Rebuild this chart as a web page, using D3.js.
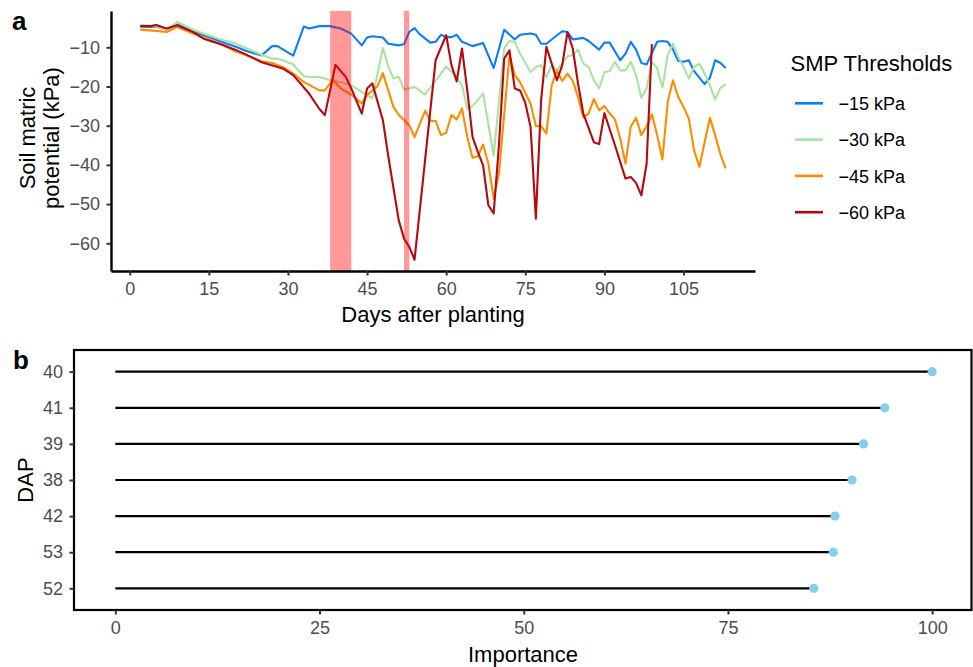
<!DOCTYPE html>
<html><head><meta charset="utf-8">
<script src="https://cdn.jsdelivr.net/npm/d3@7"></script>
<style>body{margin:0;background:#fff} text{font-family:"Liberation Sans",Arial,sans-serif}</style>
</head><body><svg id="c" width="973" height="667"></svg>
<script>
// ---- data: [days after planting, soil matric potential kPa] ----
const smp15 = [[2,-4.7],[4,-4.8],[5,-4.7],[7,-5.5],[9,-4.1],[12,-6],[15,-7.4],[18,-8.9],[20,-9.8],[22,-10.9],[25,-12.1],[27,-9.7],[28,-9.7],[31,-12.1],[33,-4.7],[34,-5.2],[36,-4.6],[38,-4.6],[40,-5.2],[42,-6.5],[44,-9.5],[45,-7.5],[46,-7.2],[48,-7.5],[49,-9.1],[51,-9.5],[52,-9.2],[53,-6.1],[54,-5.1],[55,-6.7],[57,-8.8],[58,-8.6],[59,-6.8],[60,-7.4],[61,-7.4],[62,-6.8],[63,-8.6],[65,-9.7],[67,-8.9],[69,-15.3],[71,-5.5],[73,-8],[74,-6.8],[76,-6.5],[77,-6.8],[78,-9.1],[79,-9.1],[80,-8],[82,-5.9],[83,-6.1],[84,-8],[86,-7.6],[87,-8.4],[89,-10.6],[90,-8.8],[91,-8.8],[93,-13.3],[94,-11.6],[95,-8.6],[96,-10.6],[97,-14],[98,-14.4],[100,-8.6],[101,-8.4],[102,-8.6],[103,-10.6],[104,-13.5],[105,-13.7],[106,-13.3],[107,-16.1],[109,-19.4],[110,-17.8],[111,-13.3],[112,-14],[113,-15.3]];
const smp30 = [[2,-4.3],[5,-4.6],[7,-5.6],[9,-3.5],[12,-5.5],[15,-7],[18,-8.3],[20,-9],[22,-10.2],[25,-11.9],[27,-12.9],[28,-12.9],[29,-13.3],[31,-14.4],[33,-17.4],[34,-17.5],[36,-17.6],[38,-18.4],[40,-18.9],[42,-19.7],[44,-21.4],[46,-23],[48,-10.2],[49,-14.8],[50,-17.9],[51,-17.5],[52,-20.8],[54,-20.1],[56,-22],[58,-18.5],[60,-14.9],[62,-17.6],[63,-19.7],[64,-25.6],[65,-25],[67,-21.8],[69,-37.6],[71,-10.3],[72,-8.4],[73,-8.6],[74,-11.6],[76,-16.3],[77,-15],[78,-14.6],[79,-17.6],[80,-14.6],[81,-15.9],[83,-12.3],[84,-12],[85,-10.6],[86,-14.2],[87,-15],[88,-18.4],[89,-20.5],[90,-16.3],[91,-16.1],[92,-13.7],[93,-15.9],[94,-15.9],[95,-13.7],[96,-17.1],[97,-22.9],[98,-20.5],[99,-13.7],[100,-15.4],[101,-20.3],[102,-12],[103,-9.1],[104,-12.5],[105,-15],[106,-18],[107,-15],[108,-14.2],[109,-16.7],[110,-19.7],[111,-23.3],[112,-20.3],[113,-19.4]];
const smp45 = [[2,-5.5],[5,-5.8],[7,-6.1],[9,-4.8],[12,-6.5],[15,-8],[18,-9.6],[20,-11],[22,-12],[25,-13.6],[27,-14],[29,-15],[31,-16.7],[33,-18.9],[36,-21],[37,-21],[38.5,-18.3],[40,-20.5],[42,-22.1],[44,-24.3],[45,-22.2],[46,-21],[47,-19.9],[48,-16.6],[50,-25.2],[51,-27.2],[53,-29.9],[54,-32.9],[56,-26.2],[57,-28.8],[58,-28.8],[59,-32.4],[60,-31.8],[61,-27.3],[62,-28.4],[63,-25.6],[64,-32.9],[65,-38.2],[66,-37.8],[67,-34.8],[68,-39.7],[69,-48.6],[70,-42.2],[72,-12],[73,-17.1],[74,-18.9],[75,-21.6],[76,-24.4],[77,-30.1],[78,-30.1],[79,-32],[80,-19.7],[81,-16],[82,-18.6],[83,-16.7],[84,-18.6],[85,-22.7],[86,-27.9],[87,-26.9],[88,-23.2],[89,-26.1],[90,-25],[91,-26.9],[92,-28.4],[93,-33.3],[94,-39.7],[95,-30.2],[96,-28],[97,-32.4],[98,-30.2],[99,-27.1],[100,-32.4],[101,-38.6],[102,-23.9],[103,-18.4],[104,-22.7],[105,-25.2],[106,-28.2],[107,-36.3],[108,-40.5],[109,-34.2],[110,-28],[111,-32.4],[112,-37.3],[113,-40.9]];
const smp60 = [[2,-4.6],[4,-4.6],[5,-4.3],[7,-5.2],[9,-4.4],[12,-6.1],[14,-7.8],[17,-9.1],[20,-10.6],[22,-11.8],[25,-13.8],[29,-15.4],[31,-17.1],[34,-21.8],[36,-25.8],[37,-27.3],[39,-14.5],[41,-17.6],[42,-20.5],[44,-26.9],[45,-20.5],[46,-19.2],[48,-28.6],[49,-37.6],[51,-54.1],[52,-58.8],[53,-60.9],[54,-64.2],[58,-13.3],[60,-6.9],[61,-14.6],[62,-18.7],[63,-10.3],[64,-21],[65,-32.9],[66,-36.7],[67,-40.1],[68,-50.3],[69,-52.4],[70,-35],[71,-12.9],[72,-10.8],[73,-20.5],[74,-21],[75,-24.2],[76,-30.3],[77,-53.7],[78,-23.5],[79,-9.9],[81,-18.4],[82,-14.6],[83,-6.1],[84,-10.3],[85,-19.3],[86,-26.9],[88,-34.2],[89,-34.7],[90,-26.8],[92,-35],[94,-43.5],[95,-43.1],[96,-44.6],[97,-47.8],[98,-39.7],[99,-9.2]];
const seriesNames = ["\u221215 kPa","\u221230 kPa","\u221245 kPa","\u221260 kPa"];
const seriesColors = ["#0A7DFF","#A8E4A0","#FF8C00","#B5080F"];
const irrigationBands = [[38,42],[52,53]];
const xTicksA = [0,15,30,45,60,75,90,105];
const yTicksA = [-10,-20,-30,-40,-50,-60];
// panel b
const dapLabels = ["40","41","39","38","42","53","52"];
const importance = [100,94.2,91.6,90.2,88.1,87.9,85.5];
const xTicksB = [0,25,50,75,100];

const svg = d3.select("#c");
const FONT = '"Liberation Sans",Arial,sans-serif';
const tickCol = "#4D4D4D";

function styleAxis(g){
  g.select(".domain").attr("stroke","#000").attr("stroke-width",2.4);
  g.selectAll(".tick line").attr("stroke","#333").attr("stroke-width",2);
  g.selectAll(".tick text").attr("fill",tickCol).attr("font-size",18).attr("font-family",FONT);
}

// ---------- Panel a ----------
const allSeries = [smp15,smp30,smp45,smp60];
const xA = d3.scaleLinear().domain([-3.55,118.55]).range([111,755]);
const yA = d3.scaleLinear().domain([-67.07,-0.74]).range([271,11]);

const line = d3.line().x(d=>xA(d[0])).y(d=>yA(d[1]));
const gA = svg.append("g");
allSeries.forEach((s,i)=>{
  gA.append("path").datum(s).attr("d",line).attr("fill","none")
    .attr("stroke",seriesColors[i]).attr("stroke-width",2.1).attr("stroke-linejoin","round");
});
gA.selectAll("rect.band").data(irrigationBands).join("rect")
  .attr("x",d=>xA(d[0])).attr("width",d=>xA(d[1])-xA(d[0]))
  .attr("y",11).attr("height",260).attr("fill","red").attr("opacity",0.4);

const axXA = svg.append("g").attr("transform","translate(0,271)")
  .call(d3.axisBottom(xA).tickValues(xTicksA).tickSize(4.5).tickSizeOuter(0).tickPadding(7));
styleAxis(axXA);
const axYA = svg.append("g").attr("transform","translate(111,0)")
  .call(d3.axisLeft(yA).tickValues(yTicksA).tickSize(4.5).tickSizeOuter(0).tickPadding(6.5));
styleAxis(axYA);

svg.append("text").attr("x",433).attr("y",322).attr("text-anchor","middle")
  .attr("font-size",22).attr("fill","#000").text("Days after planting");
const yt = svg.append("text").attr("transform","translate(0,138) rotate(-90)")
  .attr("text-anchor","middle").attr("font-size",22).attr("fill","#000");
yt.append("tspan").attr("x",0).attr("y",35).text("Soil matric");
yt.append("tspan").attr("x",0).attr("y",59).text("potential (kPa)");
svg.append("text").attr("x",12).attr("y",30).attr("font-size",26).attr("font-weight","bold").text("a");

// legend
svg.append("text").attr("x",790.5).attr("y",71).attr("font-size",22).attr("fill","#000").text("SMP Thresholds");
const lg = svg.selectAll("g.leg").data(seriesNames).join("g")
  .attr("transform",(d,i)=>`translate(795,${103.3+i*36.3})`);
lg.append("line").attr("x1",0).attr("x2",28).attr("stroke",(d,i)=>seriesColors[i]).attr("stroke-width",2.6);
lg.append("text").attr("x",43.5).attr("y",6.7).attr("font-size",18).attr("fill","#000").text(d=>d);

// ---------- Panel b ----------
const xB = d3.scaleLinear().domain([-5,105]).range([74.5,973]);
const yB = d3.scalePoint().domain(dapLabels).range([350,610]).padding(0.6);
const gB = svg.append("g");
gB.selectAll("line.seg").data(dapLabels).join("line")
  .attr("x1",xB(0)).attr("x2",(d,i)=>xB(importance[i]))
  .attr("y1",d=>yB(d)).attr("y2",d=>yB(d)).attr("stroke","#000").attr("stroke-width",2.2);
gB.selectAll("circle").data(dapLabels).join("circle")
  .attr("cx",(d,i)=>xB(importance[i])).attr("cy",d=>yB(d)).attr("r",4.6).attr("fill","#87CEEB");
svg.append("rect").attr("x",74).attr("y",350).attr("width",897.5).attr("height",260)
  .attr("fill","none").attr("stroke","#000").attr("stroke-width",2.2);
const axXB = svg.append("g").attr("transform","translate(0,610)")
  .call(d3.axisBottom(xB).tickValues(xTicksB).tickSize(4.5).tickSizeOuter(0).tickPadding(7));
styleAxis(axXB); axXB.select(".domain").remove();
const axYB = svg.append("g").attr("transform","translate(74,0)")
  .call(d3.axisLeft(yB).tickSize(4.5).tickSizeOuter(0).tickPadding(6.5));
styleAxis(axYB); axYB.select(".domain").remove();
svg.append("text").attr("x",523).attr("y",662).attr("text-anchor","middle").attr("font-size",22).attr("fill","#000").text("Importance");
svg.append("text").attr("transform","translate(33,480) rotate(-90)").attr("text-anchor","middle")
  .attr("font-size",22).attr("fill","#000").text("DAP");
svg.append("text").attr("x",13).attr("y",369).attr("font-size",26).attr("font-weight","bold").text("b");
</script></body></html>
